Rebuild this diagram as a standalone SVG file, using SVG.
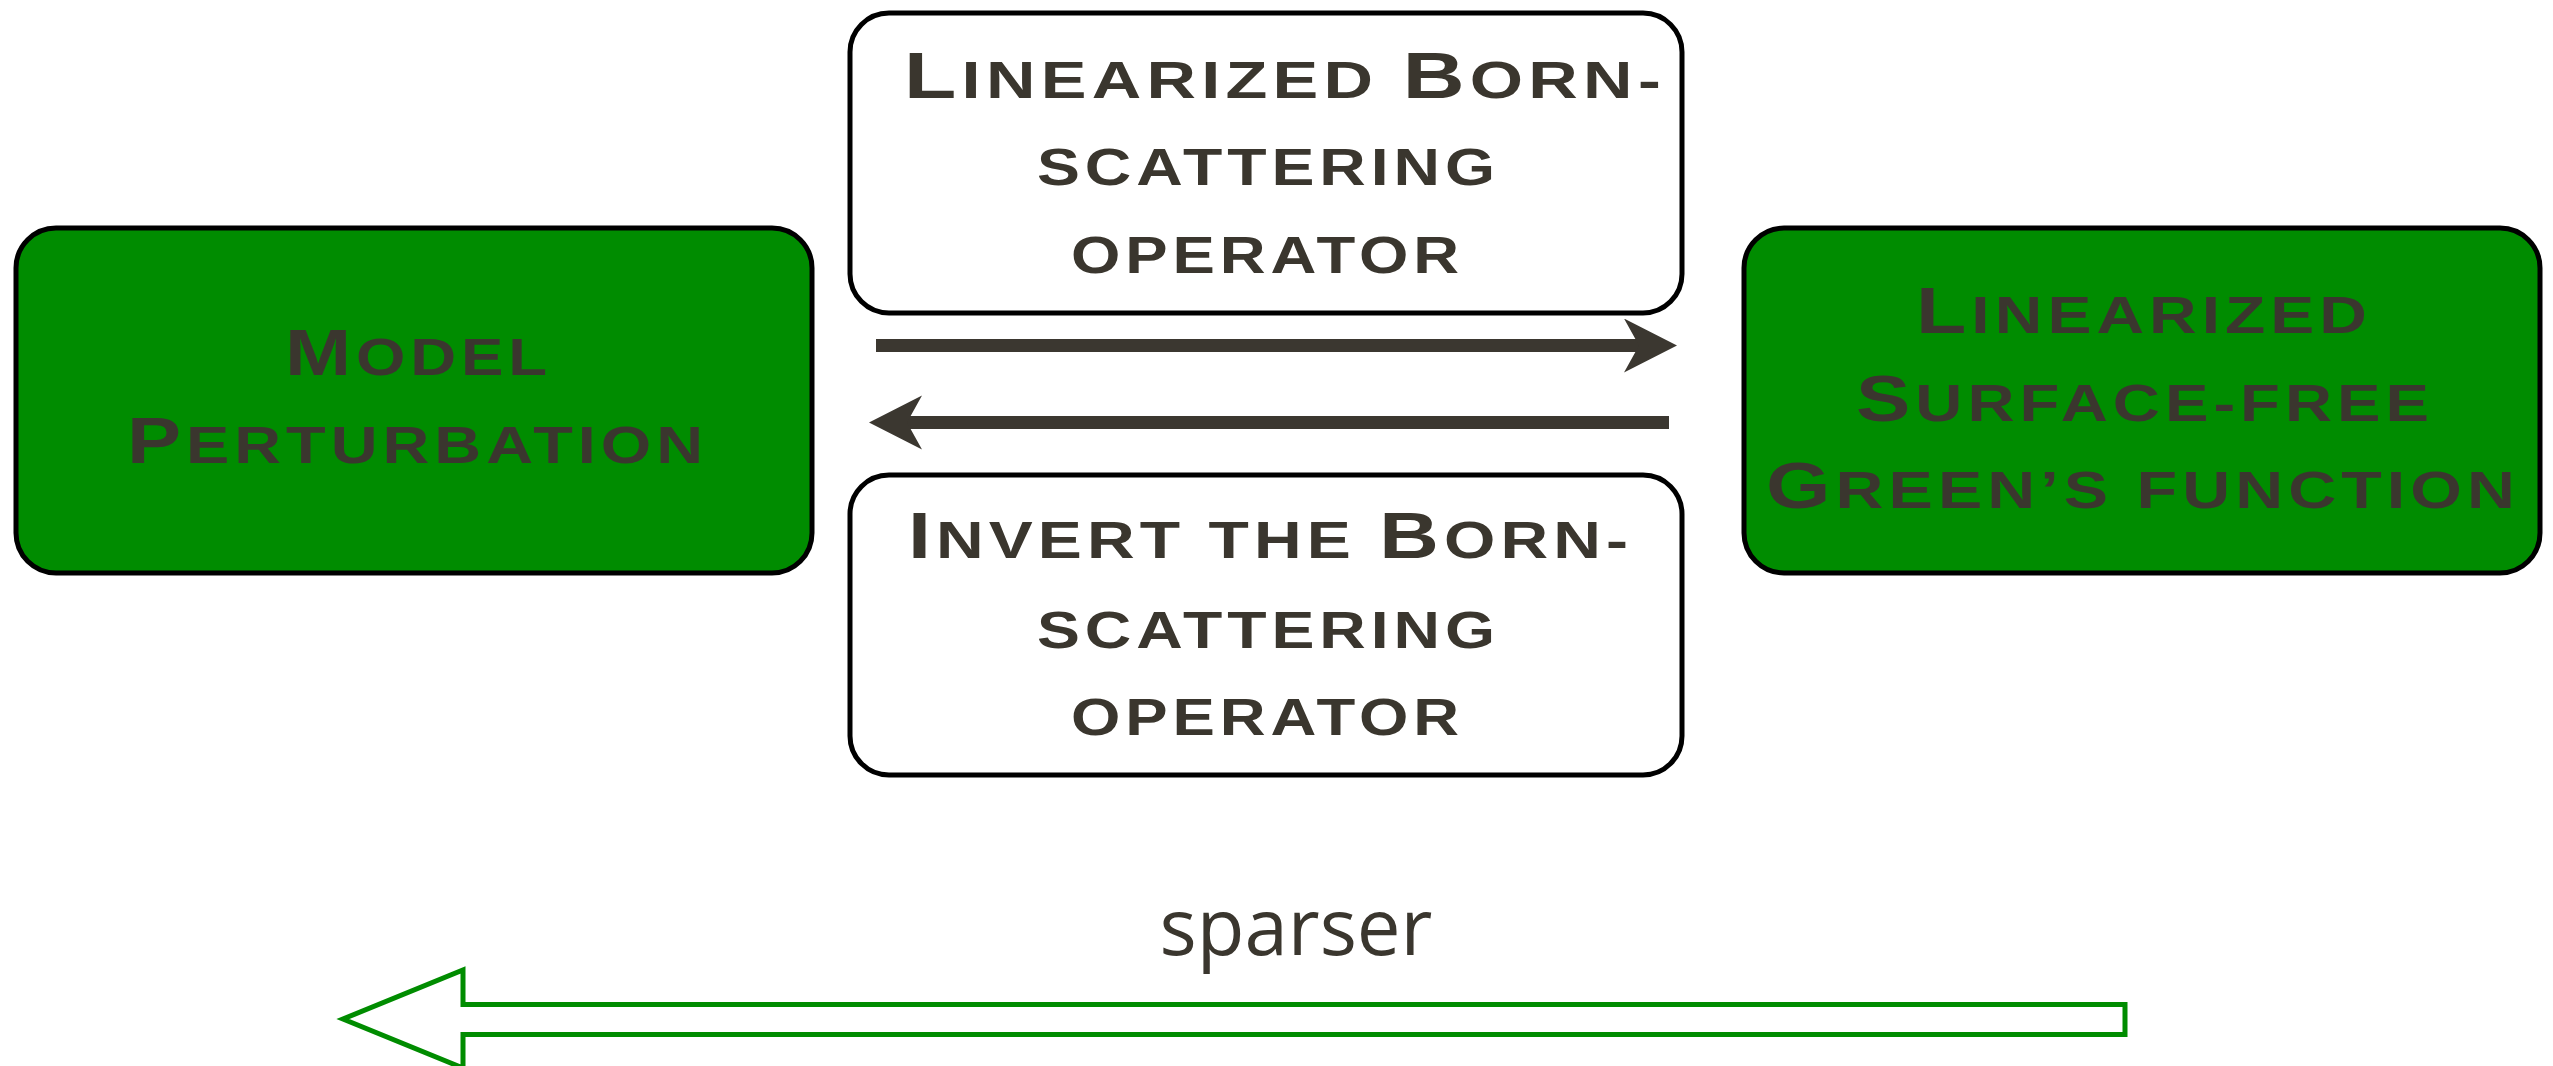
<svg xmlns="http://www.w3.org/2000/svg" width="2553" height="1066" viewBox="0 0 2553 1066">
  <style>
    .box { stroke: #000; stroke-width: 5; }
    .white { fill: #fff; }
    .green { fill: #008c00; }
    .caps { font-family: "Liberation Sans", Arial, sans-serif; font-weight: bold; font-size: 65px; letter-spacing: 4px; fill: #3a362e; }
    .sc { font-size: 52px; text-transform: uppercase; }
    .flow { stroke: #3b3730; stroke-width: 13; fill: none; }
    .note { font-family: "Open Sans", "Liberation Sans", sans-serif; font-size: 78px; fill: #3a362e; }
  </style>
  <defs>
    <marker id="head" markerUnits="userSpaceOnUse" markerWidth="60" markerHeight="60" refX="15" refY="27" orient="auto">
      <path d="M0,0 L53,27 L0,54 L15,27 Z" fill="#3b3730"/>
    </marker>
  </defs>

  <rect width="2553" height="1066" fill="#fff"/>

  <!-- forward operator -->
  <g id="node-forward">
    <rect class="box white" x="850" y="13" width="832" height="300" rx="39"/>
    <text class="caps" x="904" y="98" textLength="762" lengthAdjust="spacingAndGlyphs">L<tspan class="sc">inearized </tspan>B<tspan class="sc">orn-</tspan></text>
    <text class="caps" x="1037" y="185" textLength="463" lengthAdjust="spacingAndGlyphs"><tspan class="sc">scattering</tspan></text>
    <text class="caps" x="1071" y="273" textLength="393" lengthAdjust="spacingAndGlyphs"><tspan class="sc">operator</tspan></text>
  </g>

  <!-- inverse operator -->
  <g id="node-inverse">
    <rect class="box white" x="850" y="475" width="832" height="300" rx="39"/>
    <text class="caps" x="908" y="558" textLength="725" lengthAdjust="spacingAndGlyphs">I<tspan class="sc">nvert the </tspan>B<tspan class="sc">orn-</tspan></text>
    <text class="caps" x="1037" y="648" textLength="463" lengthAdjust="spacingAndGlyphs"><tspan class="sc">scattering</tspan></text>
    <text class="caps" x="1071" y="735" textLength="393" lengthAdjust="spacingAndGlyphs"><tspan class="sc">operator</tspan></text>
  </g>

  <!-- model side -->
  <g id="node-model">
    <rect class="box green" x="16" y="228" width="796" height="345" rx="40"/>
    <text class="caps" x="285" y="375" textLength="267" lengthAdjust="spacingAndGlyphs">M<tspan class="sc">odel</tspan></text>
    <text class="caps" x="127" y="463" textLength="581" lengthAdjust="spacingAndGlyphs">P<tspan class="sc">erturbation</tspan></text>
  </g>

  <!-- Green's function side -->
  <g id="node-green">
    <rect class="box green" x="1744" y="228" width="796" height="345" rx="40"/>
    <text class="caps" x="1916" y="333" textLength="456" lengthAdjust="spacingAndGlyphs">L<tspan class="sc">inearized</tspan></text>
    <text class="caps" x="1856" y="421" textLength="578" lengthAdjust="spacingAndGlyphs">S<tspan class="sc">urface-free</tspan></text>
    <text class="caps" x="1766" y="508" textLength="754" lengthAdjust="spacingAndGlyphs">G<tspan class="sc">reen’s function</tspan></text>
  </g>

  <g id="connectors">
    <line class="flow" x1="876" y1="345.5" x2="1639" y2="345.5" marker-end="url(#head)"/>
    <line class="flow" x1="1669" y1="422.5" x2="907" y2="422.5" marker-end="url(#head)"/>
    <polygon points="2125,1004.5 463,1004.5 463,970 343,1019 463,1068 463,1034.5 2125,1034.5" fill="#fff" stroke="#008c00" stroke-width="5"/>
  </g>

  <g id="label-sparser">
    <text class="note" x="1296" y="955" text-anchor="middle">sparser</text>
  </g>
</svg>
